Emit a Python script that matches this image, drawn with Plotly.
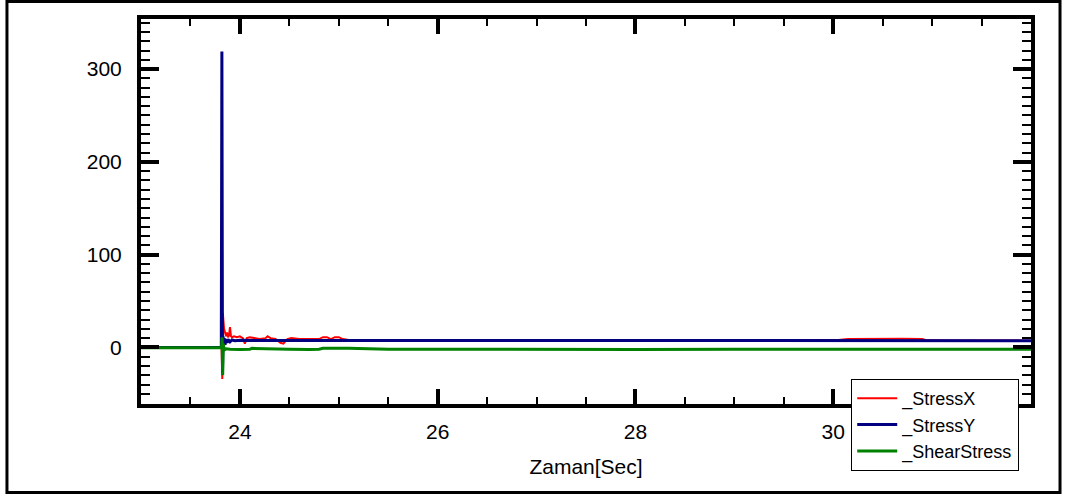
import plotly.graph_objects as go

# Time axis (s) and stress readings for each channel
stress_x_t = [23.00, 23.40, 23.80, 23.815, 23.822, 23.828, 23.834, 23.84, 23.85, 23.86,
              23.87, 23.88, 23.89, 23.90, 23.91, 23.92, 23.94, 23.97, 24.00, 24.03,
              24.05, 24.07, 24.10, 24.15, 24.20, 24.26, 24.28, 24.31, 24.36, 24.41,
              24.44, 24.48, 24.52, 24.60, 24.70, 24.80, 24.84, 24.88, 24.92, 24.96,
              25.00, 25.04, 25.10, 25.60, 26.50, 27.50, 28.50, 29.50, 30.05, 30.15,
              30.30, 30.50, 30.70, 30.90, 30.95, 31.20, 32.00]
stress_x = [0, 0, 0, 0, -34, 37, 28, 20, 14, 12,
            16, 11, 13, 22, 12, 11, 12, 11, 12, 10,
            4, 10, 11, 10, 9, 10, 12, 10, 9, 5,
            4, 9, 10, 9, 9, 9, 11, 11, 9, 11,
            11, 9, 8.0, 8.0, 8.0, 8.0, 8.0, 8.0, 8.0, 9,
            9.2, 9, 9.2, 9, 7.6, 7.4, 7.3]

stress_y_t = [23.00, 23.40, 23.80, 23.812, 23.818, 23.824, 23.83, 23.836, 23.842, 23.85,
              23.86, 23.87, 23.88, 23.90, 23.92, 23.95, 24.00, 24.20, 24.50, 25.00,
              26.00, 27.00, 28.00, 29.00, 30.00, 31.00, 32.00]
stress_y = [0, 0, 0, 0, 319, -27, 12, 2, 10, 3,
            9, 5, 8.5, 6, 8, 7.2, 7.6, 7.4, 7.6, 7.5,
            7.5, 7.5, 7.5, 7.5, 7.4, 7.3, 7.2]

shear_t = [23.00, 23.40, 23.80, 23.815, 23.82, 23.826, 23.832, 23.84, 23.86, 23.90,
           24.00, 24.10, 24.12, 24.20, 24.30, 24.35, 24.50, 24.70, 24.80, 24.84,
           25.10, 25.50, 26.00, 27.00, 28.00, 29.00, 30.00, 31.00, 32.00]
shear = [-0.5, -0.5, -0.5, -0.5, 11, -30, 4, -3, -1.5, -2,
         -2.2, -2, -1, -1.2, -2, -2.2, -2, -2.2, -2, -1,
         -1, -2, -2.2, -2, -2.2, -2, -2, -2.2, -2]

x_ticks = [24, 26, 28, 30]
y_ticks = [0, 100, 200, 300]

FONT = "Liberation Sans, Arial, sans-serif"

fig = go.Figure()
fig.add_trace(go.Scatter(x=stress_x_t, y=stress_x, mode="lines", name="_StressX",
                         line=dict(color="#FF0000", width=2)))
fig.add_trace(go.Scatter(x=stress_y_t, y=stress_y, mode="lines", name="_StressY",
                         line=dict(color="#000080", width=3)))
fig.add_trace(go.Scatter(x=shear_t, y=shear, mode="lines", name="_ShearStress",
                         line=dict(color="#008000", width=3)))

axis_common = dict(
    showgrid=False, zeroline=False,
    showline=True, linecolor="black", linewidth=4, mirror="allticks",
    ticks="inside", tickcolor="black",
    tickfont=dict(family=FONT, size=21, color="black"),
)

fig.update_xaxes(
    range=[23, 32], tickvals=x_ticks, ticklen=15, tickwidth=3.5,
    ticklabelstandoff=6,
    minor=dict(dtick=0.5, tick0=23, ticks="inside", ticklen=7, tickwidth=2, tickcolor="black"),
    title=dict(text="Zaman[Sec]", font=dict(family=FONT, size=21, color="black"), standoff=18),
    **axis_common,
)
fig.update_yaxes(
    range=[-61, 354], tickvals=y_ticks, ticklen=18, tickwidth=3.5,
    ticklabelstandoff=11,
    minor=dict(dtick=10, tick0=0, ticks="inside", ticklen=9, tickwidth=2, tickcolor="black"),
    **axis_common,
)

# Outer frame around the whole figure
fig.add_shape(type="rect", xref="paper", yref="paper",
              x0=-0.1506, x1=1.0326, y0=-0.2299, y1=1.0455,
              line=dict(color="black", width=3), fillcolor="rgba(0,0,0,0)", layer="above")

fig.update_layout(
    width=1068, height=495,
    margin=dict(l=141, r=37, t=19, b=91, autoexpand=False),
    paper_bgcolor="white", plot_bgcolor="white",
    font=dict(family=FONT, color="black"),
    showlegend=True,
    legend=dict(
        x=0.798, y=0.065, xanchor="left", yanchor="top",
        bgcolor="white", bordercolor="black", borderwidth=1,
        font=dict(family=FONT, size=18, color="black"),
        itemwidth=40, tracegroupgap=0,
    ),
)

fig.write_html("out.html")
